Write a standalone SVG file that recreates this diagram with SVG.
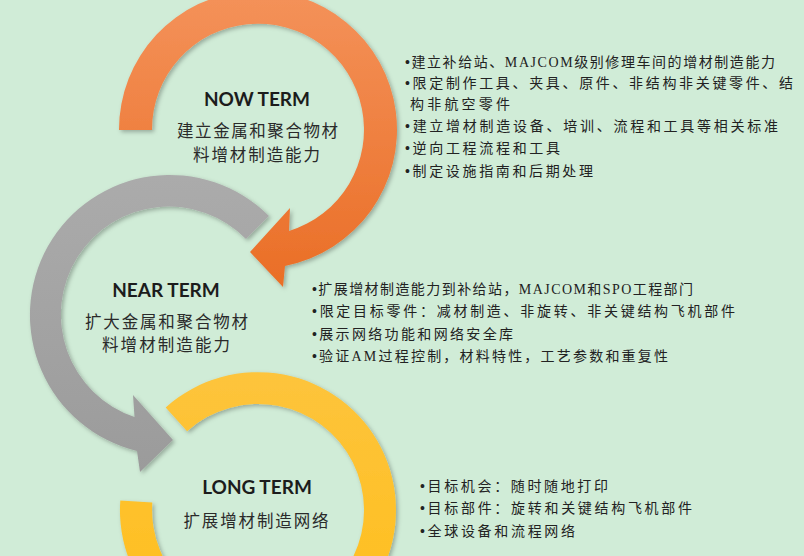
<svg xmlns="http://www.w3.org/2000/svg" width="804" height="556" viewBox="0 0 804 556">
<defs>
<linearGradient id="gOrange" x1="0" y1="0" x2="0" y2="1">
<stop offset="0" stop-color="#F4925A"/><stop offset="1" stop-color="#EA6E26"/>
</linearGradient>
<linearGradient id="gGray" x1="0" y1="0" x2="0" y2="1">
<stop offset="0" stop-color="#ABABAB"/><stop offset="1" stop-color="#9B9B9B"/>
</linearGradient>
<linearGradient id="gYellow" x1="0" y1="0" x2="0" y2="1">
<stop offset="0" stop-color="#FDC43C"/><stop offset="1" stop-color="#FFBE1A"/>
</linearGradient>
<filter id="shadow" x="-10%" y="-10%" width="120%" height="120%">
<feDropShadow dx="2" dy="2" stdDeviation="2" flood-color="#000" flood-opacity="0.28"/>
</filter>
<style>
.title{font-family:Lato,"Liberation Sans",sans-serif;font-weight:bold;font-size:19px;fill:#1c1c1c;text-anchor:middle}
.sub{font-family:"Noto Sans CJK SC",sans-serif;font-size:16.5px;fill:#2a2a2a;text-anchor:middle}
.bul{font-family:"Noto Sans CJK SC",sans-serif;font-size:14px;fill:#222}
.dot{font-family:"Liberation Sans",sans-serif}
.lat{font-family:"Liberation Serif",serif}
</style>
</defs>
<rect width="804" height="556" fill="#D0ECD7"/>

<g id="long-term">
<path d="M165.7,407.5 A138,138 0 1 1 120.3,500.4 L152.3,502.6 A106,106 0 1 0 187.1,431.2 Z" fill="url(#gYellow)" filter="url(#shadow)"/>
<text class="title" x="257" y="494">LONG TERM</text>
<text class="sub" x="256" y="527" textLength="145">扩展增材制造网络</text>
</g>

<g id="near-term">
<path d="M269,216 A140,140 0 1 0 137,451 L140,472 L173,440 L133,395 L134.5,417 A108,108 0 1 1 246,239 Z" fill="url(#gGray)" filter="url(#shadow)"/>
<text class="title" x="166" y="297">NEAR TERM</text>
<text class="sub" x="166.5" y="328" textLength="163">扩大金属和聚合物材</text>
<text class="sub" x="166" y="351" textLength="128">料增材制造能力</text>
</g>

<g id="now-term">
<path d="M119,130 A139,139 0 1 1 285,266 L283,287 L250,252 L290,208 L289,231 A106,106 0 1 0 152,130 Z" fill="url(#gOrange)" filter="url(#shadow)"/>
<text class="title" x="257" y="106">NOW TERM</text>
<text class="sub" x="257.5" y="137" textLength="161">建立金属和聚合物材</text>
<text class="sub" x="256.5" y="161" textLength="127">料增材制造能力</text>
</g>

<g id="now-term-list">
<text class="bul" x="405" y="67" textLength="370"><tspan class="dot">•</tspan>建立补给站、<tspan class="lat">MAJCOM</tspan>级别修理车间的增材制造能力</text>
<text class="bul" x="405" y="88" textLength="388"><tspan class="dot">•</tspan>限定制作工具、夹具、原件、非结构非关键零件、结</text>
<text class="bul" x="410" y="109" textLength="100">构非航空零件</text>
<text class="bul" x="405" y="131" textLength="373"><tspan class="dot">•</tspan>建立增材制造设备、培训、流程和工具等相关标准</text>
<text class="bul" x="405" y="153" textLength="155"><tspan class="dot">•</tspan>逆向工程流程和工具</text>
<text class="bul" x="405" y="176" textLength="188"><tspan class="dot">•</tspan>制定设施指南和后期处理</text>
</g>

<g id="near-term-list">
<text class="bul" x="312" y="294" textLength="381"><tspan class="dot">•</tspan>扩展增材制造能力到补给站，<tspan class="lat">MAJCOM</tspan>和<tspan class="lat">SPO</tspan>工程部门</text>
<text class="bul" x="312" y="316" textLength="423"><tspan class="dot">•</tspan>限定目标零件：减材制造、非旋转、非关键结构飞机部件</text>
<text class="bul" x="312" y="339" textLength="201"><tspan class="dot">•</tspan>展示网络功能和网络安全库</text>
<text class="bul" x="312" y="361" textLength="356"><tspan class="dot">•</tspan>验证<tspan class="lat">AM</tspan>过程控制，材料特性，工艺参数和重复性</text>
</g>

<g id="long-term-list">
<text class="bul" x="420" y="491" textLength="188"><tspan class="dot">•</tspan>目标机会：随时随地打印</text>
<text class="bul" x="420" y="513" textLength="272"><tspan class="dot">•</tspan>目标部件：旋转和关键结构飞机部件</text>
<text class="bul" x="420" y="536" textLength="155"><tspan class="dot">•</tspan>全球设备和流程网络</text>
</g>
</svg>
